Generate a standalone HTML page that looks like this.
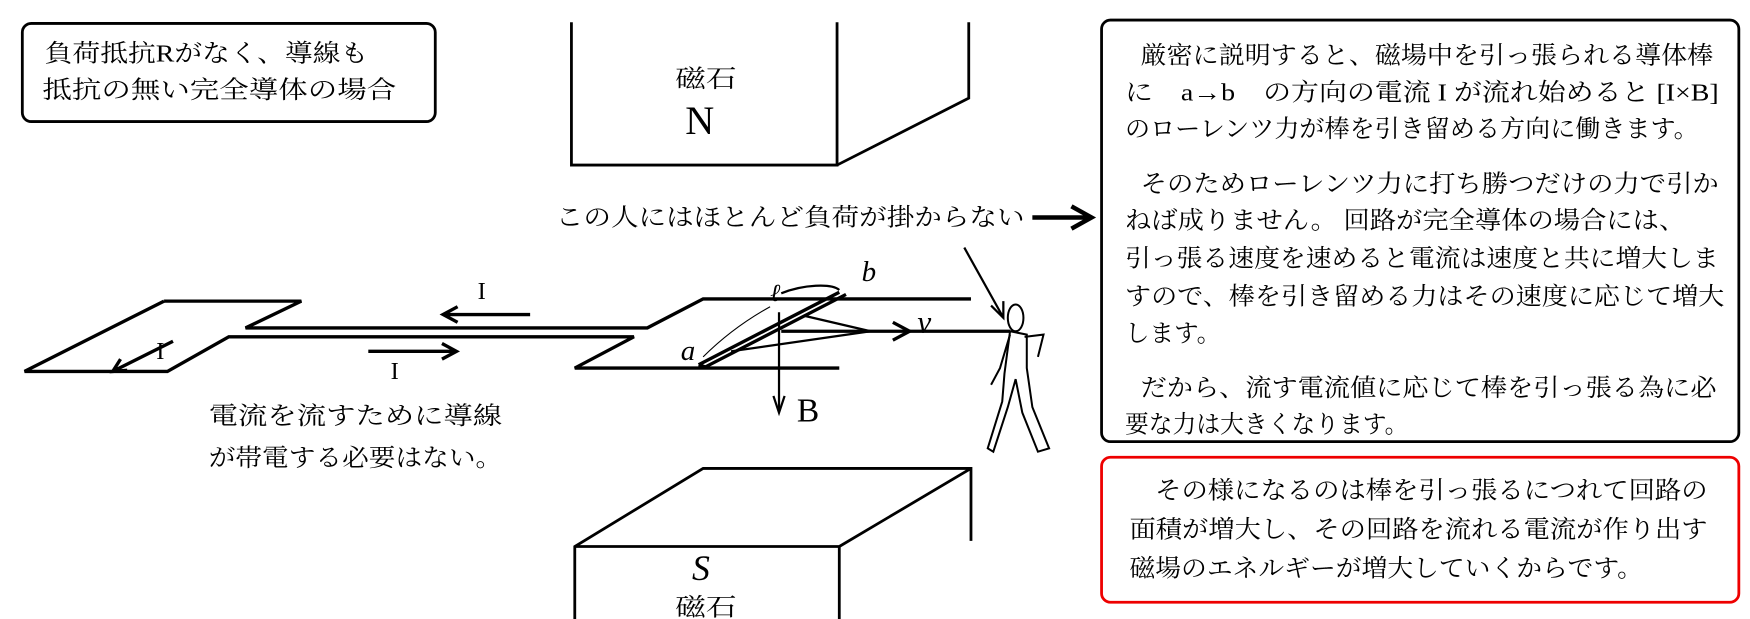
<!DOCTYPE html>
<html><head><meta charset="utf-8"><style>
html,body{margin:0;padding:0;background:#fff;}
svg{display:block;}
text{font-family:"Liberation Serif","Noto Serif CJK SC","Noto Sans CJK JP",serif;fill:#000;}
</style></head><body>
<svg width="1750" height="619" viewBox="0 0 1568 555" preserveAspectRatio="none" xmlns="http://www.w3.org/2000/svg">
<g fill="none" stroke="#000">
<rect x="20" y="21" width="370" height="88" rx="8" stroke-width="2.5"/>
<rect x="987" y="18" width="571" height="378" rx="8" stroke-width="2.5"/>
<rect x="987" y="410" width="571" height="130" rx="8" stroke="#e00" stroke-width="2.5"/>
<path d="M512 20 V148 H750 V20 M868 20 V88 L750 148" stroke-width="2.5"/>
<path d="M515 555 V490 L630 420 H870 V485 M515 490 H752 V555 M752 490 L870 420" stroke-width="2.5"/>
<path d="M147 270 L22 333 H150 L205 302 H568 L515 330 H752" stroke-width="3"/>
<path d="M147 270 H270 L220 294 H580 L630 268 H870" stroke-width="3"/>
<path d="M700 297 H905" stroke-width="3"/>
<path d="M626 327 L752 262 M632 329 L758 264 M626 327 L632 329" stroke-width="3"/>
<path d="M700 263 C720 255 745 254 752 260" stroke-width="2"/>
<path d="M630 320 C650 300 672 285 690 275" stroke-width="1"/>
<path d="M720 283 L780 297 L655 315" stroke-width="2"/>
<path d="M698 280 V368" stroke-width="2"/>
<path d="M693 355 L698 370 L703 355" stroke-width="2"/>
<path d="M800 289 L815 297 L800 305" stroke-width="3"/>
<path d="M398 282 H475 M410 275 L397 282 L410 289" stroke-width="3"/>
<path d="M330 315 H408 M396 308 L409 315 L396 322" stroke-width="3"/>
<path d="M155 306 L103 332 M108 322 L101 333 L114 332" stroke-width="3"/>
<path d="M925 195 H975 M960 185 L978 195 L960 205" stroke-width="4"/>
<path d="M864 222 L898 283 M888 274 L899 285 L899 270" stroke-width="2"/>
<g stroke-width="1.8">
<ellipse cx="910" cy="285" rx="7" ry="12"/>
<path d="M905 297 L900 335 L898 360 L885 402 L890 405 L903 365 L910 340 L916 370 L930 405 L940 402 L925 365 L920 330 L920 300 Z"/>
<path d="M905 300 L896 330 L888 345 M918 302 L935 300 L930 320"/>
</g>
</g>
<g font-size="22">
<text x="40" y="55" textLength="290" lengthAdjust="spacingAndGlyphs">負荷抵抗Rがなく、導線も</text>
<text x="38" y="88" textLength="317" lengthAdjust="spacingAndGlyphs">抵抗の無い完全導体の場合</text>
<text x="605" y="78" textLength="55" lengthAdjust="spacingAndGlyphs">磁石</text>
<text x="614" y="120" font-size="36" font-family="Liberation Sans,sans-serif">N</text>
<text x="498" y="202" textLength="420" lengthAdjust="spacingAndGlyphs">この人にはほとんど負荷が掛からない</text>
<text x="187" y="380" textLength="263" lengthAdjust="spacingAndGlyphs">電流を流すために導線</text>
<text x="187" y="418" textLength="263" lengthAdjust="spacingAndGlyphs">が帯電する必要はない。</text>
<text x="605" y="552" textLength="55" lengthAdjust="spacingAndGlyphs">磁石</text>
<text x="620" y="520" font-size="32" font-style="italic">S</text>
<text x="714" y="378" font-size="30" font-family="Liberation Sans,sans-serif">B</text>
<text x="428" y="268" font-size="22">I</text>
<text x="350" y="340" font-size="22">I</text>
<text x="140" y="322" font-size="22">I</text>
<text x="610" y="323" font-size="26" font-style="italic">a</text>
<text x="772" y="252" font-size="26" font-style="italic">b</text>
<text x="690" y="270" font-size="22" font-style="italic">ℓ</text>
<text x="822" y="298" font-size="28" font-style="italic">v</text>
<text x="1022" y="57" textLength="513" lengthAdjust="spacingAndGlyphs">厳密に説明すると、磁場中を引っ張られる導体棒</text>
<text x="1008" y="90" textLength="532" lengthAdjust="spacingAndGlyphs">に　a→b　の方向の電流 I が流れ始めると [I×B]</text>
<text x="1008" y="123" textLength="514" lengthAdjust="spacingAndGlyphs">のローレンツ力が棒を引き留める方向に働きます。</text>
<text x="1022" y="172" textLength="518" lengthAdjust="spacingAndGlyphs">そのためローレンツ力に打ち勝つだけの力で引か</text>
<text x="1008" y="205" textLength="502" lengthAdjust="spacingAndGlyphs">ねば成りません。 回路が完全導体の場合には、</text>
<text x="1008" y="239" textLength="532" lengthAdjust="spacingAndGlyphs">引っ張る速度を速めると電流は速度と共に増大しま</text>
<text x="1008" y="273" textLength="537" lengthAdjust="spacingAndGlyphs">すので、棒を引き留める力はその速度に応じて増大</text>
<text x="1008" y="306">します。</text>
<text x="1022" y="355" textLength="516" lengthAdjust="spacingAndGlyphs">だから、流す電流値に応じて棒を引っ張る為に必</text>
<text x="1008" y="388" textLength="254" lengthAdjust="spacingAndGlyphs">要な力は大きくなります。</text>
<text x="1035" y="447" textLength="495" lengthAdjust="spacingAndGlyphs">その様になるのは棒を引っ張るにつれて回路の</text>
<text x="1012" y="482" textLength="518" lengthAdjust="spacingAndGlyphs">面積が増大し、その回路を流れる電流が作り出す</text>
<text x="1012" y="517" textLength="460" lengthAdjust="spacingAndGlyphs">磁場のエネルギーが増大していくからです。</text>
</g>
</svg>
</body></html>
